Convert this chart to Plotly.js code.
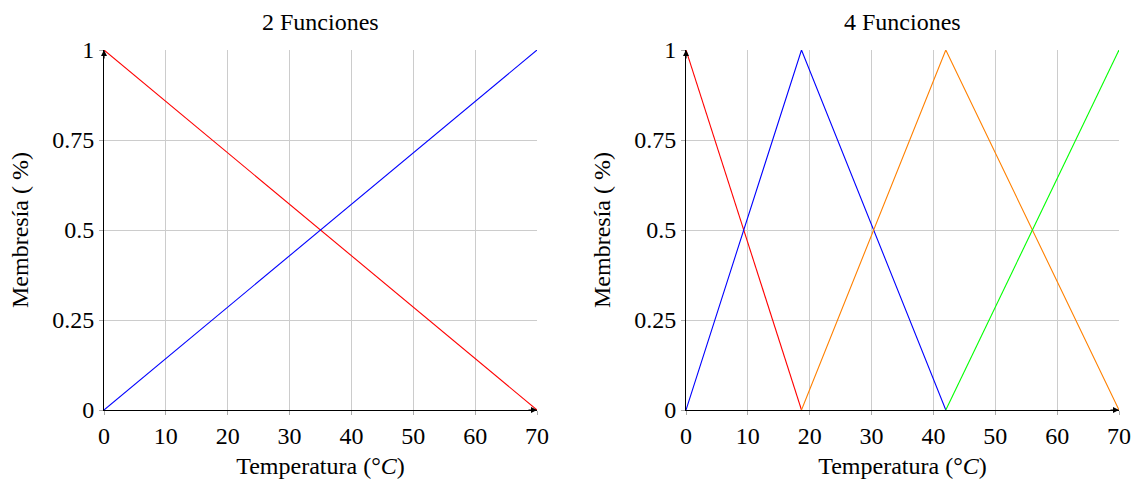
<!DOCTYPE html>
<html><head><meta charset="utf-8">
<script src="https://cdn.plot.ly/plotly-3.0.1.min.js"></script>
<style>html,body{margin:0;padding:0;background:#fff;}#chart{width:1140px;height:484px;}</style>
</head><body><div id="chart"></div>
<script>
// Left: 2 functions
const x2Low = [0, 70];
const y2Low = [1, 0];
const x2High = [0, 70];
const y2High = [0, 1];
// Right: 4 functions
const x4Red = [0, 18.67];
const y4Red = [1, 0];
const x4Blue = [0, 18.67, 42];
const y4Blue = [0, 1, 0];
const x4Orange = [18.67, 42, 70];
const y4Orange = [0, 1, 0];
const x4Green = [42, 70];
const y4Green = [0, 1];

const xTicks = [0, 10, 20, 30, 40, 50, 60, 70];
const yTicks = [0, 0.25, 0.5, 0.75, 1];
const yTickText = ['0', '0.25', '0.5', '0.75', '1'];
const titles = ['2 Funciones', '4 Funciones'];

const font = "'Liberation Serif', 'Times New Roman', serif";
const fs = 24;
const lw = 1.1;
const traces = [
  {x: x2Low, y: y2Low, xaxis: 'x', yaxis: 'y', color: '#ff0000'},
  {x: x2High, y: y2High, xaxis: 'x', yaxis: 'y', color: '#0000ff'},
  {x: x4Red, y: y4Red, xaxis: 'x2', yaxis: 'y2', color: '#ff0000'},
  {x: x4Blue, y: y4Blue, xaxis: 'x2', yaxis: 'y2', color: '#0000ff'},
  {x: x4Orange, y: y4Orange, xaxis: 'x2', yaxis: 'y2', color: '#ff8000'},
  {x: x4Green, y: y4Green, xaxis: 'x2', yaxis: 'y2', color: '#00ff00'}
].map(t => ({x: t.x, y: t.y, xaxis: t.xaxis, yaxis: t.yaxis, type: 'scatter', mode: 'lines',
  line: {color: t.color, width: lw}, showlegend: false, hoverinfo: 'skip', cliponaxis: false}));

function xa(domain, anchor) {
  return {domain: domain, anchor: anchor, range: [0, 70], tickvals: xTicks, ticktext: xTicks.map(String),
    showgrid: true, gridcolor: '#cccccc', gridwidth: 1, zeroline: false,
    showline: true, linecolor: '#000', linewidth: 1,
    ticks: 'outside', ticklen: 4, tickcolor: '#aaaaaa', tickwidth: 1,
    tickfont: {family: font, size: fs, color: '#000'},
    title: {text: 'Temperatura (°<i>C</i>)', font: {family: font, size: fs, color: '#000'}, standoff: 9}};
}
function ya(anchor) {
  return {domain: [0, 1], anchor: anchor, range: [0, 1], tickvals: yTicks, ticktext: yTickText,
    showgrid: true, gridcolor: '#cccccc', gridwidth: 1, zeroline: false,
    showline: true, linecolor: '#000', linewidth: 1,
    ticks: 'outside', ticklen: 4, tickcolor: '#aaaaaa', tickwidth: 1,
    tickfont: {family: font, size: fs, color: '#000'},
    title: {text: 'Membresía ( %)', font: {family: font, size: fs, color: '#000'}, standoff: 16}};
}

const annotations = [];
[['x', 'y'], ['x2', 'y2']].forEach((p, i) => {
  const xr = p[0] === 'x' ? 'x domain' : 'x2 domain';
  const yr = p[1] === 'y' ? 'y domain' : 'y2 domain';
  annotations.push({xref: xr, yref: yr, x: 0.5, y: 1, yshift: 28, yanchor: 'middle', text: titles[i], showarrow: false,
    font: {family: font, size: fs, color: '#000'}});
  annotations.push({xref: xr, yref: yr, x: 1, y: 0, ax: -10, ay: 0, axref: 'pixel', ayref: 'pixel',
    text: '', showarrow: true, arrowhead: 2, arrowsize: 1, arrowwidth: 1.2, arrowcolor: '#000'});
  annotations.push({xref: xr, yref: yr, x: 0, y: 1, ax: 0, ay: 10, text: '', showarrow: true,
    arrowhead: 2, arrowsize: 1, arrowwidth: 1.2, arrowcolor: '#000'});
});

const layout = {
  width: 1140, height: 484,
  margin: {l: 104, r: 21, t: 50, b: 74},
  paper_bgcolor: '#fff', plot_bgcolor: '#fff',
  xaxis: xa([0, 0.4266], 'y'),
  yaxis: ya('x'),
  xaxis2: xa([0.5734, 1], 'y2'),
  yaxis2: ya('x2'),
  annotations: annotations,
  showlegend: false
};
Plotly.newPlot('chart', traces, layout, {staticPlot: true});
</script></body></html>
